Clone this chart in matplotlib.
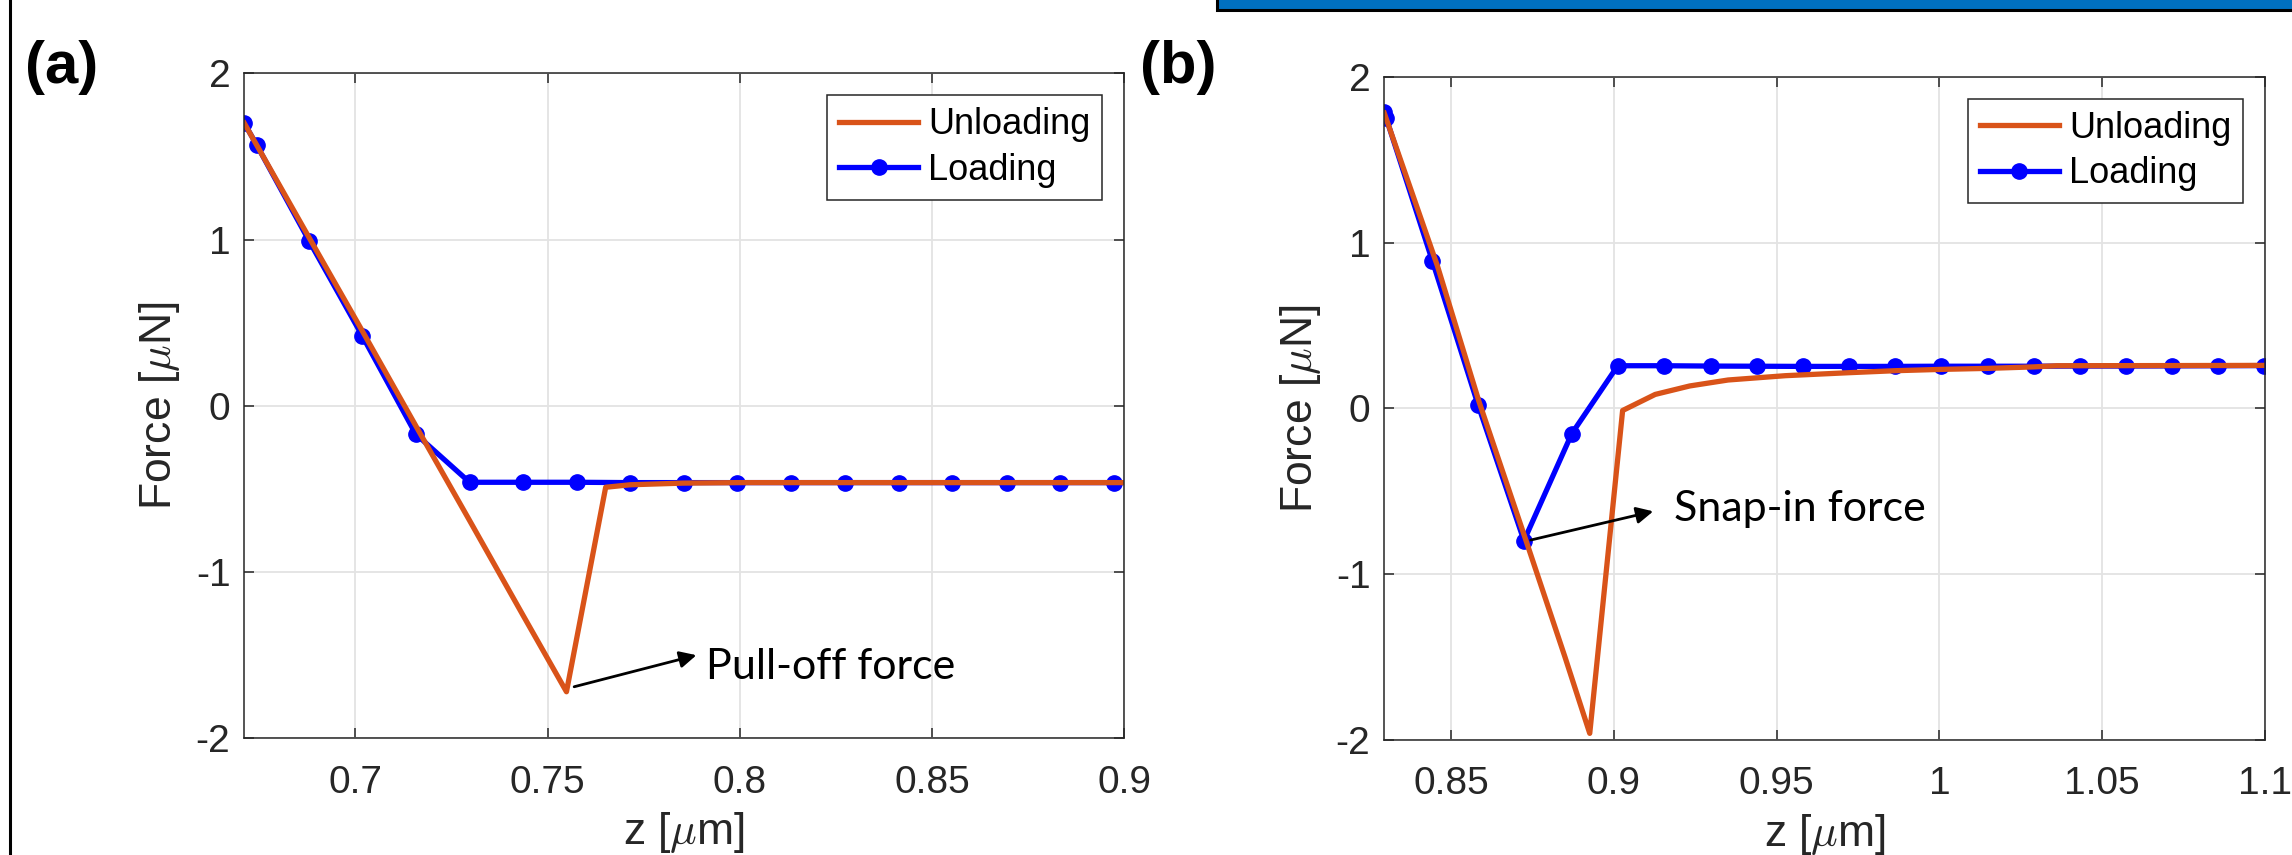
#!/usr/bin/env python3
# plot.py - force curves, loading vs unloading, two panels

import numpy as np
import matplotlib
matplotlib.use('Agg')
import matplotlib.pyplot as plt
from matplotlib import font_manager
from matplotlib.patches import Rectangle
from matplotlib.lines import Line2D

# Panel (a) data
load_a_z = [0.6711, 0.6743, 0.6880, 0.7018, 0.7157, 0.7297, 0.7436, 0.7576, 0.7715,
            0.7854, 0.7993, 0.8134, 0.8274, 0.8414, 0.8553, 0.8694, 0.8833, 0.8974]
load_a_f = [1.70, 1.57, 0.99, 0.42, -0.17, -0.46, -0.46, -0.46, -0.462,
            -0.462, -0.462, -0.462, -0.462, -0.462, -0.462, -0.462, -0.462, -0.462]
unload_a_z = [0.6711, 0.6880, 0.7018, 0.7157, 0.7297, 0.7436, 0.7549, 0.7651,
              0.7715, 0.7853, 0.8000, 0.9000]
unload_a_f = [1.70, 1.01, 0.45, -0.12, -0.69, -1.26, -1.72, -0.49,
              -0.475, -0.465, -0.462, -0.462]

# Panel (b) data
load_b_z = [0.8295, 0.8301, 0.8443, 0.8583, 0.8724, 0.8871, 0.9012, 0.9153, 0.9298,
            0.9439, 0.9580, 0.9722, 0.9864, 1.0006, 1.0148, 1.0289, 1.0431, 1.0572,
            1.0714, 1.0857, 1.0998]
load_b_f = [1.79, 1.75, 0.887, 0.021, -0.798, -0.152, 0.257, 0.257, 0.255,
            0.254, 0.253, 0.253, 0.253, 0.254, 0.254, 0.254, 0.255, 0.255,
            0.256, 0.257, 0.258]
unload_b_z = [0.8295, 0.8458, 0.8586, 0.8729, 0.8850, 0.8926, 0.9027, 0.9127, 0.9233,
              0.9351, 0.9527, 0.9722, 0.9864, 1.0006, 1.0148, 1.0289, 1.0360, 1.0700, 1.1000]
unload_b_f = [1.78, 0.86, 0.04, -0.79, -1.50, -1.96, -0.013, 0.084, 0.135,
              0.171, 0.197, 0.215, 0.227, 0.235, 0.241, 0.250, 0.257, 0.258, 0.259]

xticks_a = [0.7, 0.75, 0.8, 0.85, 0.9]
xticklabels_a = ['0.7', '0.75', '0.8', '0.85', '0.9']
xticks_b = [0.85, 0.9, 0.95, 1.0, 1.05, 1.1]
xticklabels_b = ['0.85', '0.9', '0.95', '1', '1.05', '1.1']
yticks = [-2, -1, 0, 1, 2]
yticklabels = ['-2', '-1', '0', '1', '2']

installed = {f.name for f in font_manager.fontManager.ttflist}
plt.rcParams['font.family'] = 'Liberation Sans'
plt.rcParams['mathtext.fontset'] = 'cm'
plt.rcParams['axes.unicode_minus'] = False
panel_font = 'Liberation Sans Narrow' if 'Liberation Sans Narrow' in installed else 'Liberation Sans'
note_font = 'Lato' if 'Lato' in installed else 'DejaVu Sans'

W, H = 2292, 855
fig = plt.figure(figsize=(W / 100, H / 100), dpi=100)

ORANGE = '#D95319'
GRAY = '#262626'


def make_panel(rect, load_z, load_f, unload_z, unload_f, xlim, xt, xtl, ylab_x):
    ax = fig.add_axes(rect)
    l_load, = ax.plot(load_z, load_f, '-o', color='blue', lw=3.8, ms=11, label='Loading')
    l_unload, = ax.plot(unload_z, unload_f, '-', color=ORANGE, lw=3.8, label='Unloading')
    ax.set_xlim(xlim)
    ax.set_ylim(-2, 2)
    ax.set_xticks(xt, xtl)
    ax.set_yticks(yticks, yticklabels)
    ax.grid(True, color='#e3e3e3', lw=1.3)
    ax.set_axisbelow(True)
    ax.tick_params(direction='in', length=7, width=1.1, top=True, right=True,
                   labelsize=28, colors=GRAY)
    ax.tick_params(axis='x', pad=19)
    ax.tick_params(axis='y', pad=10)
    for s in ax.spines.values():
        s.set_color(GRAY)
        s.set_linewidth(1.1)
    ax.set_xlabel(r'z [$\mu$m]', fontsize=32, color=GRAY)
    ax.set_ylabel(r'Force [$\mu$N]', fontsize=32, color=GRAY)
    ax.xaxis.set_label_coords(0.5, -0.108)
    ax.yaxis.set_label_coords(ylab_x, 0.5)
    leg = ax.legend([l_unload, l_load], ['Unloading', 'Loading'], loc='upper right',
                    bbox_to_anchor=(0.975, 0.967), borderaxespad=0, fontsize=26,
                    handlelength=2.2, handletextpad=0.27, labelspacing=0.3,
                    borderpad=0.33, numpoints=1, fancybox=False, framealpha=1)
    leg.get_frame().set_edgecolor(GRAY)
    leg.get_frame().set_linewidth(1.1)
    return ax


ax_a = make_panel([244.3 / W, 116.7 / H, 880 / W, 665 / H],
                  load_a_z, load_a_f, unload_a_z, unload_a_f,
                  (0.6711, 0.9), xticks_a, xticklabels_a, -0.071)
ax_b = make_panel([1384.3 / W, 115 / H, 880.7 / W, 663.3 / H],
                  load_b_z, load_b_f, unload_b_z, unload_b_f,
                  (0.8295, 1.1), xticks_b, xticklabels_b, -0.070)

# annotations
arrow = dict(arrowstyle='-|>', color='black', lw=2, mutation_scale=25, shrinkA=0, shrinkB=0)
ax_a.annotate('', xy=(0.7887, -1.50), xytext=(0.7569, -1.69), arrowprops=arrow)
ax_a.text(0.7913, -1.572, 'Pull-off force', fontsize=31, family=note_font,
          va='center', ha='left', color='black')
ax_b.annotate('', xy=(0.9121, -0.621), xytext=(0.8745, -0.794), arrowprops=arrow)
ax_b.text(0.9186, -0.607, 'Snap-in force', fontsize=31, family=note_font,
          va='center', ha='left', color='black')

# panel labels
fig.text(25 / W, 1 - 40 / H, '(a)', fontsize=43, fontweight='bold', family=panel_font,
         va='top', ha='left')
fig.text(1140 / W, 1 - 40 / H, '(b)', fontsize=43, fontweight='bold', family=panel_font,
         va='top', ha='left')

# page decorations: left rule and blue banner at top right
fig.add_artist(Line2D([10 / W, 10 / W], [0, 1], transform=fig.transFigure,
                      color='black', lw=2.2))
fig.add_artist(Rectangle((1217 / W, 1 - 10 / H), 0.6, 0.05, transform=fig.transFigure,
                         facecolor='#0070C0', edgecolor='black', lw=2.2))

fig.savefig('out.png', dpi=100)
